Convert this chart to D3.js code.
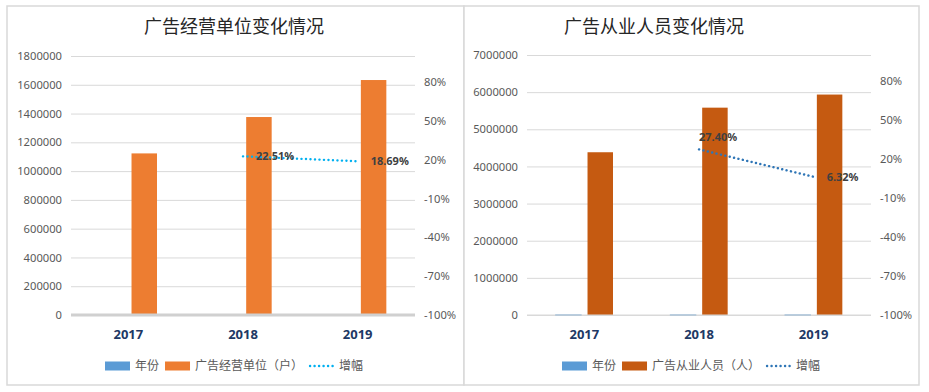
<!DOCTYPE html>
<html>
<head>
<meta charset="utf-8">
<title>广告经营单位与从业人员变化情况</title>
<script src="https://cdnjs.cloudflare.com/ajax/libs/d3/7.8.5/d3.min.js"></script>
<style>
    body, html { margin: 0; padding: 0; background: #fff; }
    svg text { font-family: "Noto Sans", "Noto Sans CJK SC", sans-serif; }
    svg text.cjk { font-family: "Noto Sans CJK SC", sans-serif; }
</style>
</head>
<body>
<svg id="chart" width="929" height="392"></svg>
<script>
    // data
    var years = ['2017', '2018', '2019'];
    var yearValues = [2017, 2018, 2019];
    var units = [1123059, 1375892, 1633000];
    var unitsGrowth = [null, 0.2251, 0.1869];
    var staff = [4381795, 5582253, 5935100];
    var staffGrowth = [null, 0.2740, 0.0632];
    var unitTicks = [0, 200000, 400000, 600000, 800000, 1000000, 1200000, 1400000, 1600000, 1800000];
    var staffTicks = [0, 1000000, 2000000, 3000000, 4000000, 5000000, 6000000, 7000000];
    var pctTicks = [-1, -0.7, -0.4, -0.1, 0.2, 0.5, 0.8];

    var svg = d3.select('#chart');
    var yearColor = '#5B9BD5';

    function drawPanel(o) {
        var g = svg.append('g');
        var plot = o.plot; // [left, right, top, bottom]

        g.append('rect')
            .attr('x', o.box[0]).attr('y', o.box[1])
            .attr('width', o.box[2]).attr('height', o.box[3])
            .attr('fill', '#fff')
            .attr('stroke', '#d9d9d9')
            .attr('stroke-width', 1.5);

        g.append('text')
            .attr('class', 'cjk')
            .attr('x', o.titleX).attr('y', 33)
            .attr('text-anchor', 'middle')
            .attr('font-size', 18)
            .attr('fill', '#262626')
            .text(o.title);

        var x0 = d3.scaleBand().domain(years).range([plot[0], plot[1]])
            .paddingInner(0.5).paddingOuter(0.25);
        var x1 = d3.scaleBand().domain(['year', 'value']).range([0, x0.bandwidth()])
            .paddingInner(0.2);
        var y = d3.scaleLinear().domain([0, o.max]).range([plot[3], plot[2]]);
        var y2 = d3.scaleLinear().domain([-1, 1]).range([plot[3], plot[2]]);

        // gridlines + left labels
        var ga = g.append('g')
            .attr('transform', 'translate(' + plot[0] + ',0)')
            .call(d3.axisLeft(y).tickValues(o.ticks)
                .tickSize(-(plot[1] - plot[0])).tickPadding(9)
                .tickFormat(d3.format('d')));
        ga.select('.domain').remove();
        ga.selectAll('line').attr('stroke', '#d9d9d9');
        ga.selectAll('text').attr('font-size', 11.2).attr('fill', '#595959');

        var gr = g.append('g')
            .attr('transform', 'translate(' + plot[1] + ',0)')
            .call(d3.axisRight(y2).tickValues(pctTicks).tickSize(0).tickPadding(9)
                .tickFormat(function (d) { return Math.round(d * 100) + '%'; }));
        gr.select('.domain').remove();
        gr.selectAll('text').attr('font-size', 11.2).attr('fill', '#595959');

        // bars
        g.selectAll('.yearbar')
            .data(years)
            .enter().append('rect')
            .attr('x', function (d) { return x0(d) + x1('year'); })
            .attr('y', function (d, i) { return y(yearValues[i]); })
            .attr('width', x1.bandwidth())
            .attr('height', function (d, i) { return y(0) - y(yearValues[i]); })
            .attr('fill', yearColor)
            .attr('stroke', yearColor)
            .attr('stroke-width', 1);

        g.selectAll('.valbar')
            .data(years)
            .enter().append('rect')
            .attr('x', function (d) { return x0(d) + x1('value'); })
            .attr('y', function (d, i) { return y(o.values[i]); })
            .attr('width', x1.bandwidth())
            .attr('height', function (d, i) { return y(0) - y(o.values[i]); })
            .attr('fill', o.barColor);

        // category axis
        g.append('line')
            .attr('x1', plot[0]).attr('x2', plot[1])
            .attr('y1', y(0)).attr('y2', y(0))
            .attr('stroke', o.axisColor)
            .attr('stroke-width', o.axisWidth);

        var gx = g.append('g')
            .attr('transform', 'translate(0,' + y(0) + ')')
            .call(d3.axisBottom(x0).tickSize(0).tickPadding(15));
        gx.select('.domain').remove();
        gx.selectAll('text')
            .attr('font-size', 13).attr('font-weight', 'bold').attr('fill', '#203864');

        // growth line
        var pts = years.map(function (d, i) {
            return { x: x0(d) + x0.bandwidth() / 2, v: o.growth[i] };
        });
        var line = d3.line()
            .defined(function (d) { return d.v != null; })
            .x(function (d) { return d.x; })
            .y(function (d) { return y2(d.v); });
        g.append('path')
            .datum(pts)
            .attr('d', line)
            .attr('fill', 'none')
            .attr('stroke', o.lineColor)
            .attr('stroke-width', 2.4)
            .attr('stroke-linecap', 'round')
            .attr('stroke-dasharray', '0.1,4.4');

        g.selectAll('.lbl')
            .data(pts.filter(function (d) { return d.v != null; }))
            .enter().append('text')
            .attr('x', function (d, i) { return o.labelSide[i] === 'above' ? d.x : d.x + 13; })
            .attr('y', function (d, i) { return y2(d.v) + (o.labelSide[i] === 'above' ? -12 : 0); })
            .attr('dy', '0.35em')
            .attr('font-size', 11)
            .attr('font-weight', 'bold')
            .attr('fill', '#404040')
            .text(function (d) { return (d.v * 100).toFixed(2) + '%'; });

        // legend
        var items = [
            { kind: 'rect', color: yearColor, label: '年份' },
            { kind: 'rect', color: o.barColor, label: o.seriesName },
            { kind: 'line', color: o.lineColor, label: '增幅' }
        ];
        var lx = o.legendX, ly = 366;
        items.forEach(function (it) {
            if (it.kind === 'rect') {
                g.append('rect')
                    .attr('x', lx).attr('y', ly - 4.5)
                    .attr('width', 25).attr('height', 9)
                    .attr('fill', it.color);
            } else {
                g.append('line')
                    .attr('x1', lx + 1).attr('x2', lx + 25)
                    .attr('y1', ly).attr('y2', ly)
                    .attr('stroke', it.color)
                    .attr('stroke-width', 2.4)
                    .attr('stroke-linecap', 'round')
                    .attr('stroke-dasharray', '0.1,4.4');
            }
            lx += 30;
            var t = g.append('text')
                .attr('class', 'cjk')
                .attr('x', lx).attr('y', ly)
                .attr('dy', '0.35em')
                .attr('font-size', 12)
                .attr('fill', '#595959')
                .text(it.label);
            lx += t.node().getComputedTextLength() + 6;
        });
    }

    drawPanel({
        box: [7, 6, 457, 379],
        plot: [71, 415, 56, 315],
        title: '广告经营单位变化情况',
        titleX: 234,
        values: units,
        growth: unitsGrowth,
        max: 1800000,
        ticks: unitTicks,
        barColor: '#ED7D31',
        lineColor: '#00B0F0',
        axisColor: '#d0d0d0',
        axisWidth: 3,
        seriesName: '广告经营单位（户）',
        labelSide: ['right', 'right'],
        legendX: 105
    });

    drawPanel({
        box: [464, 6, 455, 379],
        plot: [527, 871, 55, 315],
        title: '广告从业人员变化情况',
        titleX: 654,
        values: staff,
        growth: staffGrowth,
        max: 7000000,
        ticks: staffTicks,
        barColor: '#C55A11',
        lineColor: '#2E75B6',
        axisColor: '#d9d9d9',
        axisWidth: 1,
        seriesName: '广告从业人员（人）',
        labelSide: ['above', 'right'],
        legendX: 562
    });
</script>
</body>
</html>
